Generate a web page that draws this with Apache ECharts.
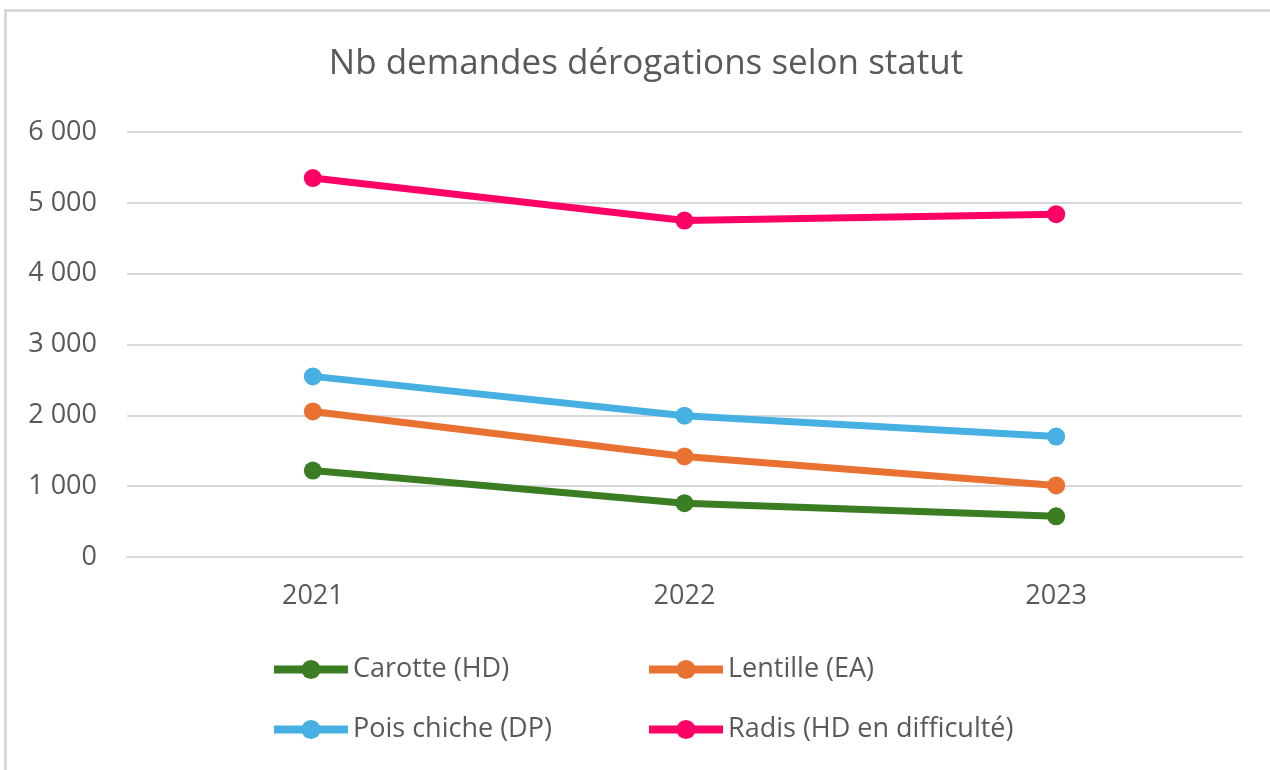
<!DOCTYPE html>
<html>
<head>
<meta charset="utf-8">
<title>Nb demandes dérogations selon statut</title>
<script src="https://cdn.jsdelivr.net/npm/echarts@6/dist/echarts.min.js"></script>
<style>
  html, body {
    margin: 0;
    padding: 0;
    background: #fff;
  }
  .frame {
    position: absolute;
    left: 4px;
    top: 9px;
    width: 1270px;
    height: 770px;
    border-left: 3px solid #d9d9d9;
    border-top: 3px solid #d9d9d9;
  }
  #chart {
    position: absolute;
    left: 0;
    top: 0;
    width: 1270px;
    height: 770px;
  }
</style>
</head>
<body>
<div class="frame"></div>
<div id="chart"></div>
<script>
// données
const years = ['2021', '2022', '2023']
const carotte = [1220, 760, 575]
const lentille = [2055, 1420, 1010]
const poisChiche = [2550, 1995, 1700]
const radis = [5350, 4750, 4840]

const seriesNames = ['Carotte (HD)', 'Lentille (EA)', 'Pois chiche (DP)', 'Radis (HD en difficulté)']
const seriesColors = ['#3b7d23', '#e97132', '#45b0e1', '#ff0066']
const seriesData = [carotte, lentille, poisChiche, radis]

const FONT = '"Open Sans", Roboto, sans-serif'
const GREY = '#595959'

const chart = echarts.init(document.getElementById('chart'))

// légende sur deux lignes, deux colonnes
const legendPos = [
  { left: 270, top: 656 },
  { left: 645, top: 656 },
  { left: 270, top: 716 },
  { left: 645, top: 716 }
]

const option = {
  backgroundColor: 'transparent',
  title: {
    text: 'Nb demandes dérogations selon statut',
    left: 641,
    top: 42,
    textAlign: 'center',
    textStyle: {
      fontFamily: FONT,
      fontSize: 35,
      fontWeight: 'normal',
      color: GREY
    }
  },
  legend: seriesNames.map((name, i) => ({
    data: [name],
    left: legendPos[i].left,
    top: legendPos[i].top,
    padding: 0,
    itemWidth: 74,
    itemHeight: 24,
    lineStyle: { width: 8 },
    textStyle: {
      fontFamily: FONT,
      fontSize: 27,
      color: GREY
    }
  })),
  grid: {
    left: 127,
    right: 28,
    top: 132,
    bottom: 213
  },
  xAxis: {
    type: 'category',
    data: years,
    boundaryGap: true,
    axisLine: { show: true, lineStyle: { color: '#d9d9d9', width: 2 } },
    axisTick: { show: false },
    axisLabel: {
      margin: 26,
      fontFamily: FONT,
      fontSize: 27,
      color: GREY
    }
  },
  yAxis: {
    type: 'value',
    min: 0,
    max: 6000,
    interval: 1000,
    axisLine: { show: false },
    axisTick: { show: false },
    splitLine: { lineStyle: { color: '#d9d9d9', width: 2 } },
    axisLabel: {
      margin: 30,
      fontFamily: FONT,
      fontSize: 27,
      color: GREY,
      formatter: v => String(v).replace(/\B(?=(\d{3})+(?!\d))/g, ' ')
    }
  },
  series: seriesNames.map((name, i) => ({
    name: name,
    type: 'line',
    data: seriesData[i],
    symbol: 'circle',
    symbolSize: 18,
    lineStyle: { width: 7, color: seriesColors[i] },
    itemStyle: { color: seriesColors[i] }
  }))
}

chart.setOption(option)
</script>
</body>
</html>
